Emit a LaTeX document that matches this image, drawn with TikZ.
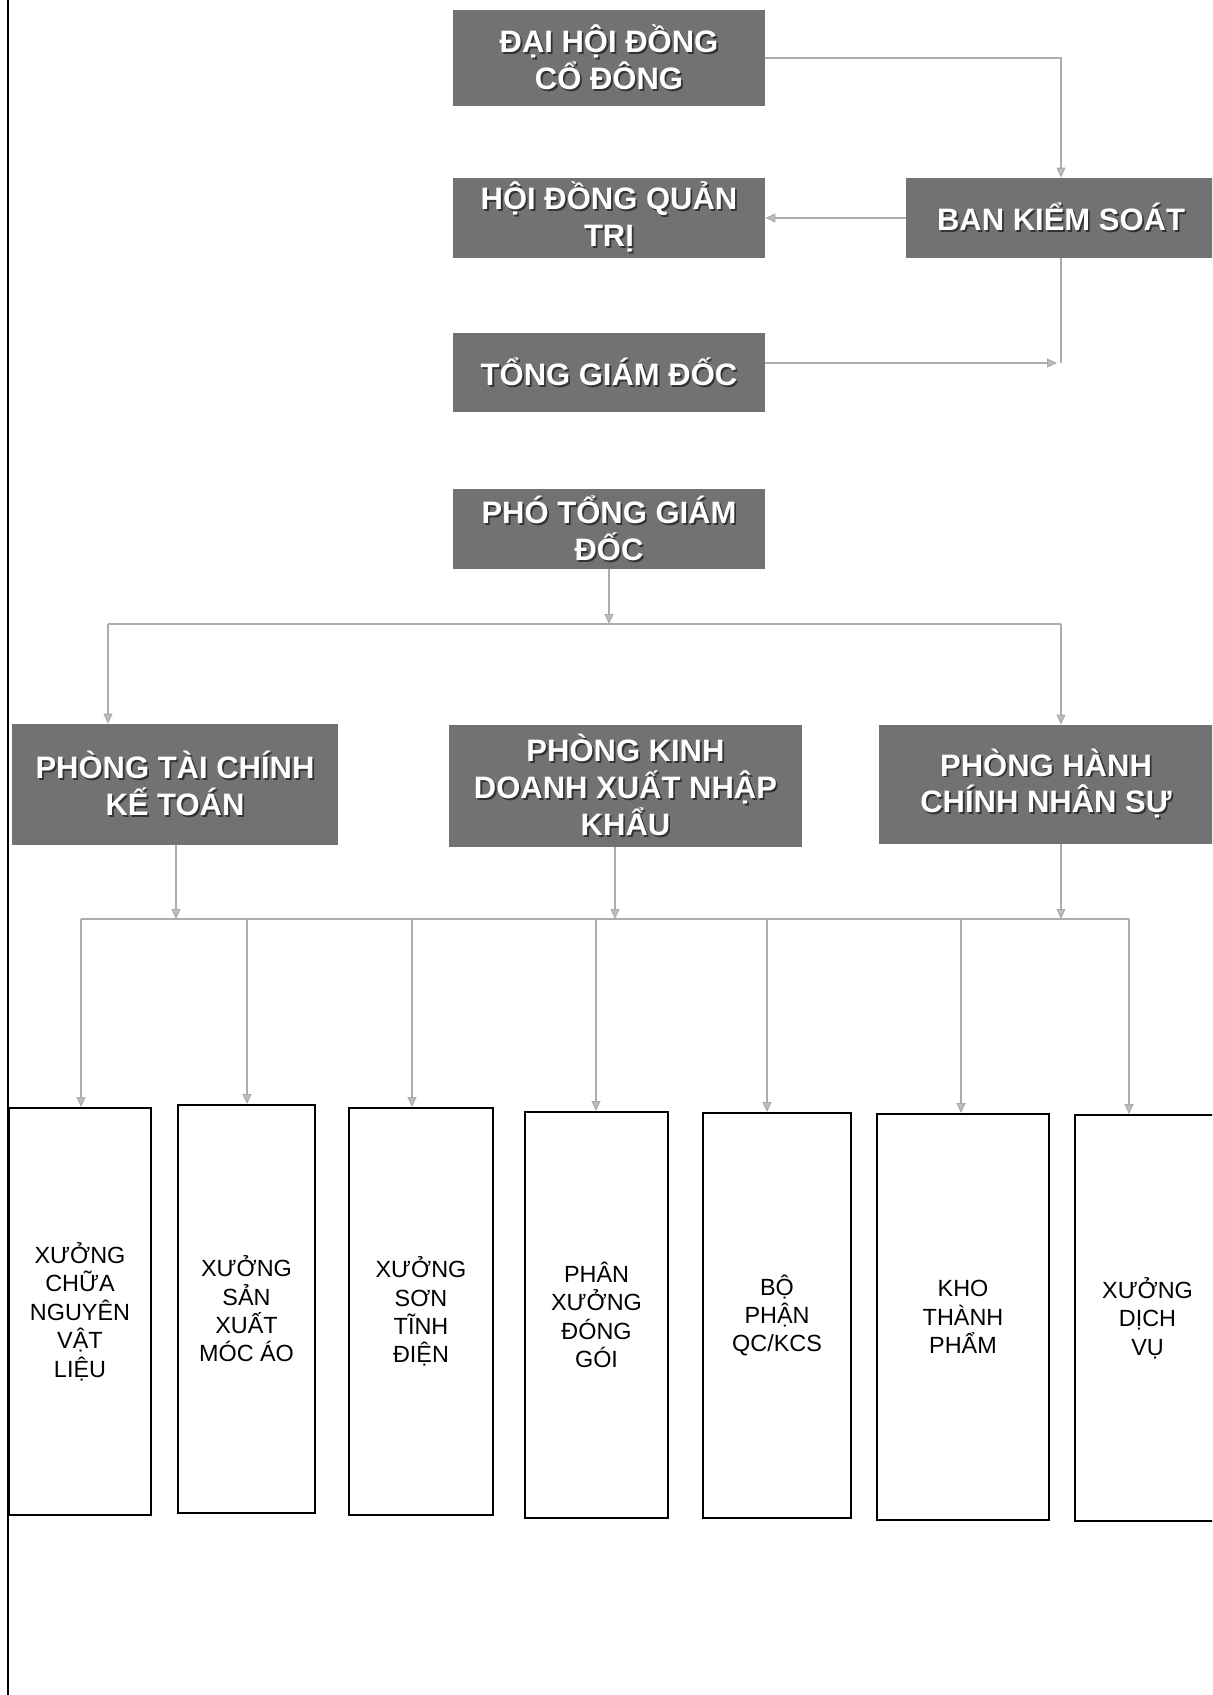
\documentclass[tikz,border=0pt]{standalone}
\usepackage{fontspec}
\setmainfont{Liberation Sans}
\usetikzlibrary{arrows.meta}
\definecolor{boxgray}{RGB}{114,114,114}
\definecolor{linegray}{RGB}{172,172,172}
\definecolor{tipgray}{RGB}{190,190,190}
\newcommand\shd[1]{\leavevmode\rlap{\kern0.9pt\raisebox{-0.9pt}{\textcolor{black!80}{#1}}}#1}
\begin{document}
\begin{tikzpicture}[x=0.5pt,y=-0.5pt,
  dark/.style={fill=boxgray, draw=none, text=white, font=\bfseries\fontsize{15.5}{18.4}\selectfont, align=center, inner sep=0pt},
  unit/.style={draw=black, line width=1pt, fill=white, font=\fontsize{11.7}{14.2}\selectfont, align=center, inner sep=0pt},
  conn/.style={draw=linegray, line width=0.6pt},
  arr/.style={conn, -{Triangle[length=5pt,width=4.5pt,fill=tipgray]}}
]
\useasboundingbox (0,0) rectangle (1212,1695);
\clip (0,0) rectangle (1212,1695);
\fill[white] (0,0) rectangle (1212,1695);
\draw[line width=1pt] (8,0) -- (8,1695);

% top level
\node[dark, minimum width=156pt, minimum height=48pt] (dhd) at (609,58) {\shd{ĐẠI HỘI ĐỒNG}\\\shd{CỔ ĐÔNG}};
\node[dark, minimum width=156pt, minimum height=40pt] (hdqt) at (609,218) {\shd{HỘI ĐỒNG QUẢN}\\\shd{TRỊ}};
\node[dark, minimum width=155pt, minimum height=40pt] (bks) at (1061,218) {\shd{BAN KIỂM SOÁT}};
\node[dark, minimum width=156pt, minimum height=39.5pt] (tgd) at (609,372.5) {\shd{TỔNG GIÁM ĐỐC}};
\node[dark, minimum width=156pt, minimum height=40pt] (ptgd) at (609,529) {\shd{PHÓ TỔNG GIÁM}\\\shd{ĐỐC}};

% departments
\node[dark, minimum width=163pt, minimum height=60.5pt] (ptc) at (175,784.5) {\shd{PHÒNG TÀI CHÍNH}\\\shd{KẾ TOÁN}};
\node[dark, minimum width=176.5pt, minimum height=61pt] (pkd) at (625.5,786) {\shd{PHÒNG KINH}\\\shd{DOANH XUẤT NHẬP}\\\shd{KHẨU}};
\node[dark, minimum width=167pt, minimum height=59.5pt] (phc) at (1046,784.5) {\shd{PHÒNG HÀNH}\\\shd{CHÍNH NHÂN SỰ}};

% units
\node[unit, minimum width=71pt, minimum height=203.5pt] (u1) at (80,1311.5) {XƯỞNG\\CHỮA\\NGUYÊN\\VẬT\\LIỆU};
\node[unit, minimum width=68.5pt, minimum height=204pt] (u2) at (246.5,1309) {XƯỞNG\\SẢN\\XUẤT\\MÓC ÁO};
\node[unit, minimum width=72pt, minimum height=203.5pt] (u3) at (421,1311.5) {XƯỞNG\\SƠN\\TĨNH\\ĐIỆN};
\node[unit, minimum width=71.5pt, minimum height=203pt] (u4) at (596.5,1315) {PHÂN\\XƯỞNG\\ĐÓNG\\GÓI};
\node[unit, minimum width=74pt, minimum height=202.5pt] (u5) at (777,1315.5) {BỘ\\PHẬN\\QC/KCS};
\node[unit, minimum width=86pt, minimum height=203pt] (u6) at (963,1317) {KHO\\THÀNH\\PHẨM};
\node[unit, minimum width=72.5pt, minimum height=203pt] (u7) at (1147.5,1318) {XƯỞNG\\DỊCH\\VỤ};

% top connectors
\draw[arr] (dhd.east) -| (bks.north);
\draw[arr] (bks.west) -- (hdqt.east);
\coordinate (j1) at (1061,363);
\draw[conn] (bks.south) -- (j1);
\draw[arr] (tgd.east |- j1) -- ([xshift=-2pt]j1);

% to departments
\coordinate (b0) at (609,624);
\coordinate (bl) at (108,624);
\coordinate (br) at (1061,624);
\draw[arr] (ptgd.south) -- (b0);
\draw[conn] (bl) -- (br);
\draw[arr] (bl) -- (bl |- ptc.north);
\draw[arr] (br) -- (br |- phc.north);

% departments to units
\coordinate (c1) at (176,919);
\coordinate (c2) at (615,919);
\coordinate (c3) at (1061,919);
\draw[arr] (c1 |- ptc.south) -- (c1);
\draw[arr] (c2 |- pkd.south) -- (c2);
\draw[arr] (c3 |- phc.south) -- (c3);
\coordinate (d1) at (81,919);
\coordinate (d2) at (247,919);
\coordinate (d3) at (412,919);
\coordinate (d4) at (596,919);
\coordinate (d5) at (767,919);
\coordinate (d6) at (961,919);
\coordinate (d7) at (1129,919);
\draw[conn] (d1) -- (d7);
\foreach \i in {1,...,7}{
  \draw[arr] (d\i) -- (d\i |- u\i.north);
}
\end{tikzpicture}
\end{document}
